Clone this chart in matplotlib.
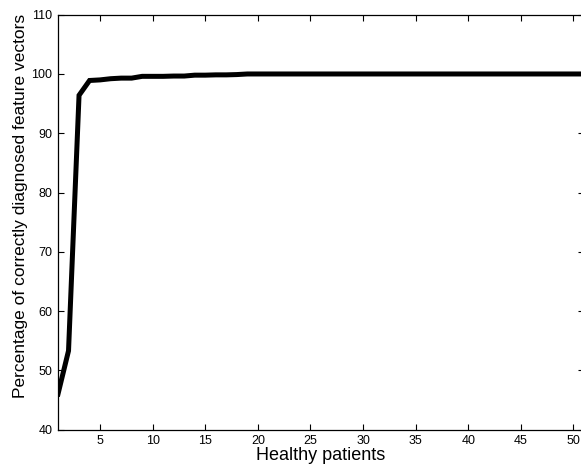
import matplotlib
matplotlib.use("Agg")
import matplotlib.pyplot as plt
import numpy as np

plt.rcParams['font.family'] = ['Liberation Sans', 'DejaVu Sans']

# number of healthy patients vs. accuracy (%)
patients = list(range(1, 52))
accuracy = [46.0, 53.3, 96.4, 98.9, 99.0, 99.2, 99.3, 99.3, 99.6, 99.6,
            99.6, 99.65, 99.65, 99.8, 99.8, 99.85, 99.85, 99.9, 100.0, 100.0] + [100.0] * 31

xticks = [5, 10, 15, 20, 25, 30, 35, 40, 45, 50]
yticks = [40, 50, 60, 70, 80, 90, 100, 110]

fig = plt.figure(figsize=(5.81, 4.66), dpi=100)
ax = fig.add_axes([58 / 581, 1 - 429.6 / 466, (584 - 58) / 581, (429.6 - 14.7) / 466])

ax.plot(patients, accuracy, color='black', linewidth=3.6, solid_joinstyle='miter')

ax.set_xlim(1, 51)
ax.set_ylim(40, 110)
ax.set_xticks(xticks)
ax.set_yticks(yticks)
ax.tick_params(direction='in', top=True, right=True, length=4, width=0.8, labelsize=9, pad=4)
for s in ax.spines.values():
    s.set_linewidth(0.9)

ax.set_xlabel('Healthy patients', fontsize=13, labelpad=0)
ax.set_ylabel('Percentage of correctly diagnosed feature vectors', fontsize=12.5)
ax.yaxis.set_label_coords(-0.057, 0.54)

fig.savefig('out.png', dpi=100)
